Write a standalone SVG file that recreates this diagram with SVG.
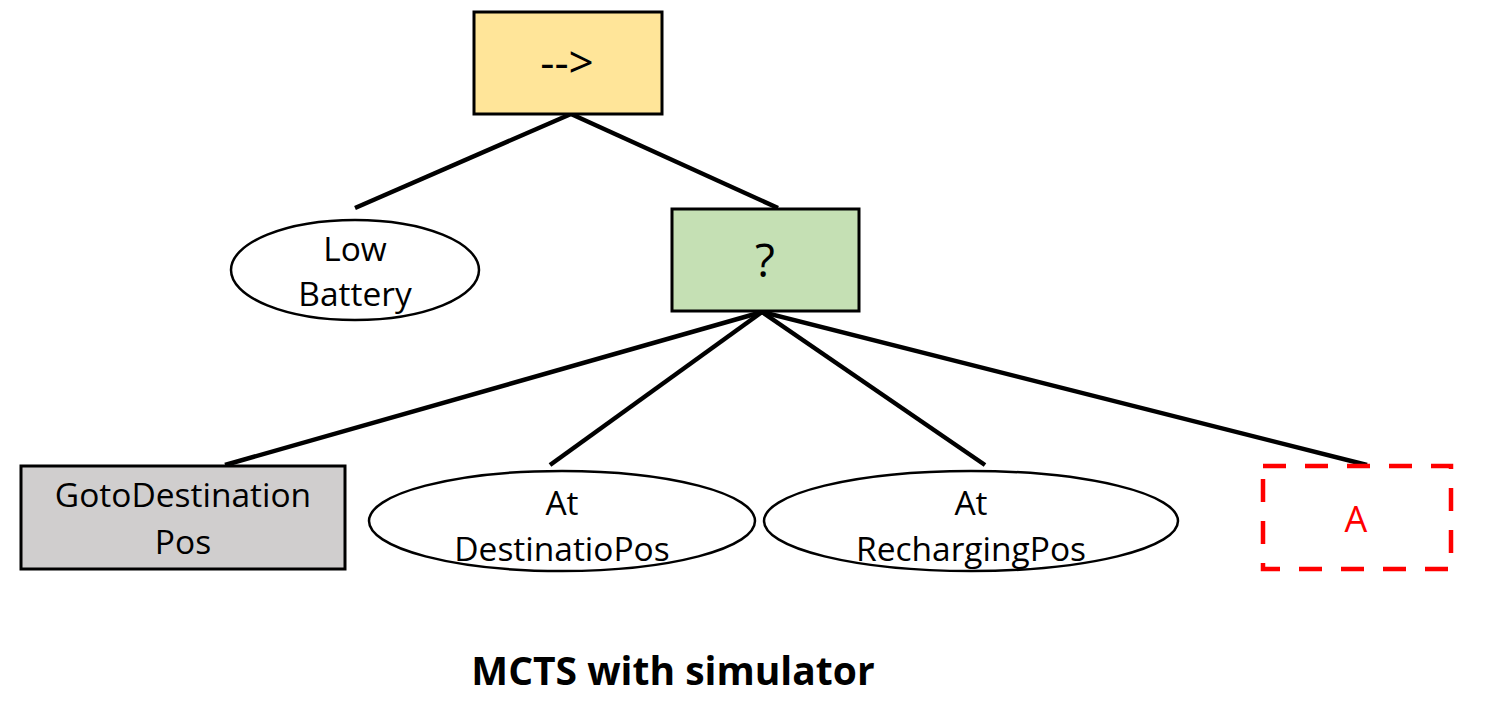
<svg xmlns="http://www.w3.org/2000/svg" width="1488" height="701" viewBox="0 0 1488 701">
<style>
.t{font-family:"Open Sans","Liberation Sans",sans-serif;font-size:33.5px;fill:#000;text-anchor:middle}
.b{stroke:#000;stroke-width:3}
.e{fill:#fff;stroke:#000;stroke-width:2.5}
.c{stroke:#000;stroke-width:4.5;fill:none}
</style>
<rect width="1488" height="701" fill="#fff"/>
<g id="connectors">
<line class="c" x1="571" y1="114" x2="355" y2="208"/>
<line class="c" x1="571" y1="114" x2="778" y2="208"/>
<line class="c" x1="762" y1="312" x2="225" y2="465"/>
<line class="c" x1="762" y1="312" x2="550" y2="465"/>
<line class="c" x1="762" y1="312" x2="985" y2="465"/>
<line class="c" x1="762" y1="312" x2="1367" y2="465"/>
</g>
<g id="sequence">
<rect class="b" x="474" y="12" width="188" height="102" fill="#FFE599"/>
<text class="t" x="567" y="78" style="font-size:44px">--&gt;</text>
</g>
<g id="lowbattery">
<ellipse class="e" cx="355" cy="270" rx="124" ry="50"/>
<text class="t" x="355" y="261">Low</text>
<text class="t" x="355" y="306">Battery</text>
</g>
<g id="fallback">
<rect class="b" x="672" y="209" width="187" height="102" fill="#C5E0B4"/>
<text class="t" x="765" y="277" style="font-size:46px">?</text>
</g>
<g id="goto">
<rect class="b" x="21" y="466" width="324" height="103" fill="#D0CECE"/>
<text class="t" x="183" y="507">GotoDestination</text>
<text class="t" x="183" y="554">Pos</text>
</g>
<g id="atdest">
<ellipse class="e" cx="562" cy="521" rx="193" ry="50"/>
<text class="t" x="562" y="515">At</text>
<text class="t" x="562" y="561">DestinatioPos</text>
</g>
<g id="atrecharge">
<ellipse class="e" cx="971" cy="521" rx="207" ry="50"/>
<text class="t" x="971" y="515">At</text>
<text class="t" x="971" y="561">RechargingPos</text>
</g>
<g id="actionA">
<rect x="1263" y="466" width="188" height="103" fill="none" stroke="#FF0000" stroke-width="4.5" stroke-dasharray="23 19"/>
<text class="t" x="1356" y="532" style="fill:#FF0000;font-size:36px">A</text>
</g>
<g id="title">
<text x="673" y="685" style="font-family:'Open Sans','Liberation Sans',sans-serif;font-size:39px;font-weight:bold;text-anchor:middle;fill:#000">MCTS with simulator</text>
</g>
</svg>
